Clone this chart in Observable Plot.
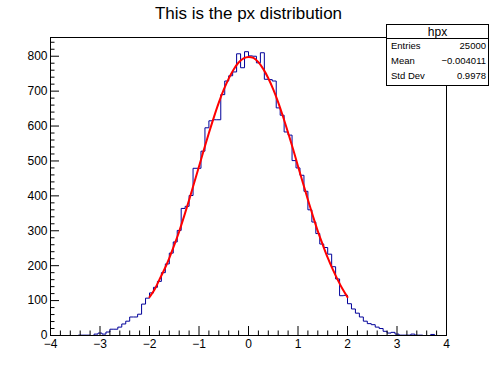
<!DOCTYPE html>
<html>
<head>
<meta charset="utf-8">
<script src="https://cdn.jsdelivr.net/npm/d3@7"></script>
<script src="https://cdn.jsdelivr.net/npm/@observablehq/plot@0.6"></script>
<style>
html, body { margin: 0; padding: 0; background: #fff; }
#wrap { position: relative; width: 496px; height: 372px; overflow: hidden;
  font-family: "Liberation Sans", Arial, Helvetica, sans-serif; }
#stats { position: absolute; left: 386px; top: 24px; }
</style>
</head>
<body>
<div id="wrap"></div>
<script>
// ---- data ----
const chartTitle = "This is the px distribution";
const histName = "hpx";
const statLabels = ["Entries", "Mean", "Std Dev"];
const statValues = ["25000", "\u22120.004011", "0.9978"];

const binLow = -4;
const binHigh = 4;
// 100 bin contents of hpx (bins of width 0.08 from -4 to 4)
const counts = [
  0, 0, 0, 0, 0, 0, 0, 1, 1, 1,
  0, 4, 7, 4, 10, 18, 18, 24, 33, 41,
  53, 53, 61, 90, 107, 122, 138, 155, 180, 205,
  236, 268, 301, 364, 370, 401, 479, 479, 528, 595,
  615, 618, 618, 690, 729, 744, 755, 807, 767, 813,
  801, 800, 781, 810, 734, 733, 729, 652, 631, 583,
  574, 501, 480, 459, 413, 360, 325, 292, 262, 252,
  233, 197, 162, 114, 115, 91, 76, 64, 53, 41,
  34, 31, 24, 20, 12, 7, 9, 4, 1, 1,
  1, 4, 1, 1, 0, 0, 3, 0, 0, 0
];

// fitted gaussian curve
const fitX = [-2.0, -1.9, -1.8, -1.7, -1.6, -1.5, -1.4, -1.3, -1.2, -1.1, -1.0,
  -0.9, -0.8, -0.7, -0.6, -0.5, -0.4, -0.3, -0.2, -0.1, 0.0,
  0.1, 0.2, 0.3, 0.4, 0.5, 0.6, 0.7, 0.8, 0.9, 1.0,
  1.1, 1.2, 1.3, 1.4, 1.5, 1.6, 1.7, 1.8, 1.9, 2.0];
const fitY = [110, 131, 160, 189, 222, 259, 298, 342, 388, 436, 484,
  533, 580, 625, 667, 704, 736, 762, 782, 794, 798,
  795, 783, 763, 737, 705, 668, 626, 581, 534, 485,
  437, 389, 343, 299, 260, 223, 190, 160, 133, 110];

const xTicks = [-4, -3, -2, -1, 0, 1, 2, 3, 4];
const yTicks = [0, 100, 200, 300, 400, 500, 600, 700, 800];

// ---- build ----
const binW = (binHigh - binLow) / counts.length;
const histPts = counts.map((c, i) => ({x: binLow + i * binW, y: c}));
histPts.push({x: binHigh, y: counts[counts.length - 1]});
const fitPts = fitX.map((x, i) => ({x, y: fitY[i]}));

const yMax = 1.05 * d3.max(counts);
const xMinor = d3.range(binLow, binHigh + 1e-9, 0.2).map(v => Math.round(v * 10) / 10).filter(v => !xTicks.includes(v));
const yMinor = d3.range(0, yMax, 20).filter(v => !yTicks.includes(v));

const font = "'Liberation Sans', Arial, Helvetica, sans-serif";

const chart = Plot.plot({
  width: 496,
  height: 372,
  marginLeft: 50,
  marginRight: 50,
  marginTop: 37,
  marginBottom: 37,
  style: {fontFamily: font, fontSize: "12px", color: "#000", background: "#fff", overflow: "visible"},
  x: {domain: [binLow, binHigh], label: null},
  y: {domain: [0, yMax], label: null},
  marks: [
    Plot.line(histPts, {x: "x", y: "y", curve: "step-after", stroke: "#000099", strokeWidth: 1}),
    Plot.line(fitPts, {x: "x", y: "y", curve: "catmull-rom", stroke: "#ff0000", strokeWidth: 2}),
    Plot.axisX({ticks: xTicks, tickSize: -9, fill: "none", label: null}),
    Plot.axisX({ticks: xMinor, tickSize: -4.5, fill: "none", label: null}),
    Plot.axisX({ticks: xTicks, tickSize: 0, tickPadding: 4, fontSize: 12, label: null}),
    Plot.axisY({ticks: yTicks, tickSize: -9, fill: "none", label: null}),
    Plot.axisY({ticks: yMinor, tickSize: -4.5, fill: "none", label: null}),
    Plot.axisY({ticks: yTicks, tickSize: 0, tickPadding: 3, fontSize: 12, label: null}),
    Plot.frame({stroke: "#000"}),
    Plot.text([chartTitle], {frameAnchor: "top", dy: -19, lineAnchor: "bottom", fontSize: 17, fill: "#000"})
  ]
});
document.getElementById("wrap").appendChild(chart);

// statistics box (ROOT-style stat pave)
const st = d3.select("#wrap").append("svg")
  .attr("id", "stats")
  .attr("width", 103).attr("height", 62)
  .style("font-family", font);
st.append("rect").attr("x", 0.5).attr("y", 0.5).attr("width", 102).attr("height", 61)
  .attr("fill", "#fff").attr("stroke", "#000");
st.append("line").attr("x1", 0).attr("x2", 103).attr("y1", 14.5).attr("y2", 14.5).attr("stroke", "#000");
st.append("text").attr("x", 51.5).attr("y", 11.5).attr("text-anchor", "middle")
  .attr("font-size", 12).text(histName);
const rowY = [25, 40, 55];
statLabels.forEach((lab, i) => {
  st.append("text").attr("x", 5).attr("y", rowY[i]).attr("font-size", 9.5).text(lab);
  st.append("text").attr("x", 100).attr("y", rowY[i]).attr("text-anchor", "end")
    .attr("font-size", 9.5).text(statValues[i]);
});
</script>
</body>
</html>
